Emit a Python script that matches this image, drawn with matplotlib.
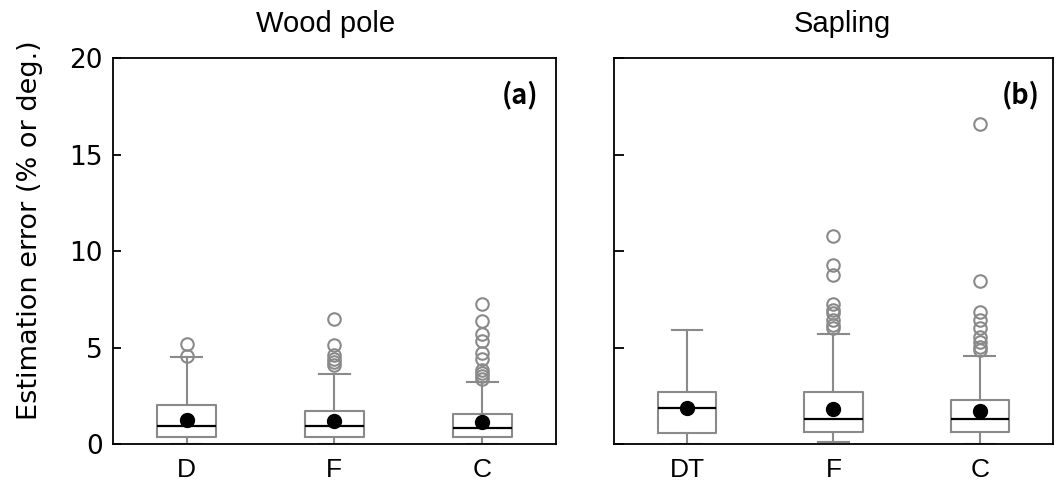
import matplotlib
matplotlib.use("Agg")
import matplotlib.pyplot as plt

# DATOS
grupos_a = ["D", "F", "C"]
grupos_b = ["DT", "F", "C"]

# Wood pole
q1_a = [0.38, 0.38, 0.38]
med_a = [0.95, 0.94, 0.81]
q3_a = [2.03, 1.71, 1.56]
media_a = [1.25, 1.21, 1.13]
bigote_inf_a = [0.0, 0.0, 0.0]
bigote_sup_a = [4.53, 3.64, 3.20]
atipicos_a = [
    [4.55, 5.20],
    [4.10, 4.25, 4.40, 4.62, 5.15, 6.49],
    [3.36, 3.50, 3.67, 3.84, 4.42, 4.74, 5.35, 5.71, 6.39, 7.27],
]

# Sapling
q1_b = [0.59, 0.64, 0.64]
med_b = [1.87, 1.28, 1.30]
q3_b = [2.70, 2.72, 2.29]
media_b = [1.85, 1.83, 1.71]
bigote_inf_b = [0.02, 0.09, 0.02]
bigote_sup_b = [5.92, 5.68, 4.57]
atipicos_b = [
    [],
    [6.01, 6.18, 6.44, 6.79, 6.96, 7.27, 8.74, 9.30, 10.77],
    [4.88, 5.05, 5.31, 5.57, 6.01, 6.44, 6.84, 8.43, 16.57],
]

gris = "#8a8a8a"
fuente_texto = ["Liberation Sans", "DejaVu Sans"]


def estadisticas(q1, med, q3, media, wlo, whi, fl):
    return [dict(q1=a, med=b, q3=c, mean=d, whislo=e, whishi=f, fliers=g)
            for a, b, c, d, e, f, g in zip(q1, med, q3, media, wlo, whi, fl)]


def dibujar(ax, stats, etiquetas):
    ax.bxp(stats, positions=[1, 2, 3], widths=0.4, showmeans=True,
           capwidths=0.21,
           boxprops=dict(color=gris, linewidth=1.5),
           whiskerprops=dict(color=gris, linewidth=1.5),
           capprops=dict(color=gris, linewidth=1.5),
           medianprops=dict(color="black", linewidth=1.6),
           meanprops=dict(marker="o", markerfacecolor="black",
                          markeredgecolor="black", markersize=10),
           flierprops=dict(marker="o", markerfacecolor="none",
                           markeredgecolor=gris, markersize=9,
                           markeredgewidth=1.5))
    ax.set_xlim(0.5, 3.5)
    ax.set_ylim(0, 20)
    ax.set_yticks([0, 5, 10, 15, 20])
    ax.set_xticks([1, 2, 3])
    ax.set_xticklabels(etiquetas, fontsize=19, family=fuente_texto)
    ax.tick_params(axis="x", length=0, pad=10)
    ax.tick_params(axis="y", direction="in", length=6, width=1.3,
                   labelsize=19, pad=7)
    for lado in ax.spines.values():
        lado.set_linewidth(1.3)


fig = plt.figure(figsize=(10.6, 4.84), dpi=100)
ax1 = fig.add_axes([0.1063, 0.0826, 0.4182, 0.7975])
ax2 = fig.add_axes([0.5792, 0.0826, 0.4142, 0.7975])

dibujar(ax1, estadisticas(q1_a, med_a, q3_a, media_a, bigote_inf_a,
                          bigote_sup_a, atipicos_a), grupos_a)
dibujar(ax2, estadisticas(q1_b, med_b, q3_b, media_b, bigote_inf_b,
                          bigote_sup_b, atipicos_b), grupos_b)
ax2.tick_params(axis="y", labelleft=False, length=7)

ax1.text(0.481, 1.052, "Wood pole", transform=ax1.transAxes, ha="center",
         va="bottom", fontsize=21, family=fuente_texto)
ax2.text(0.519, 1.052, "Sapling", transform=ax2.transAxes, ha="center",
         va="bottom", fontsize=21, family=fuente_texto)

ax1.text(0.96, 0.905, "(a)", transform=ax1.transAxes, ha="right",
         va="center", fontsize=19.5, fontweight="bold",
         family=["Noto Sans CJK JP", "DejaVu Sans"])
ax2.text(0.97, 0.905, "(b)", transform=ax2.transAxes, ha="right",
         va="center", fontsize=19.5, fontweight="bold",
         family=["Noto Sans CJK JP", "DejaVu Sans"])

fig.text(30 / 1060, 1 - 230 / 484, "Estimation error (% or deg.)",
         rotation=90, ha="center", va="center", fontsize=19.5)

fig.savefig("out.png", dpi=100)
